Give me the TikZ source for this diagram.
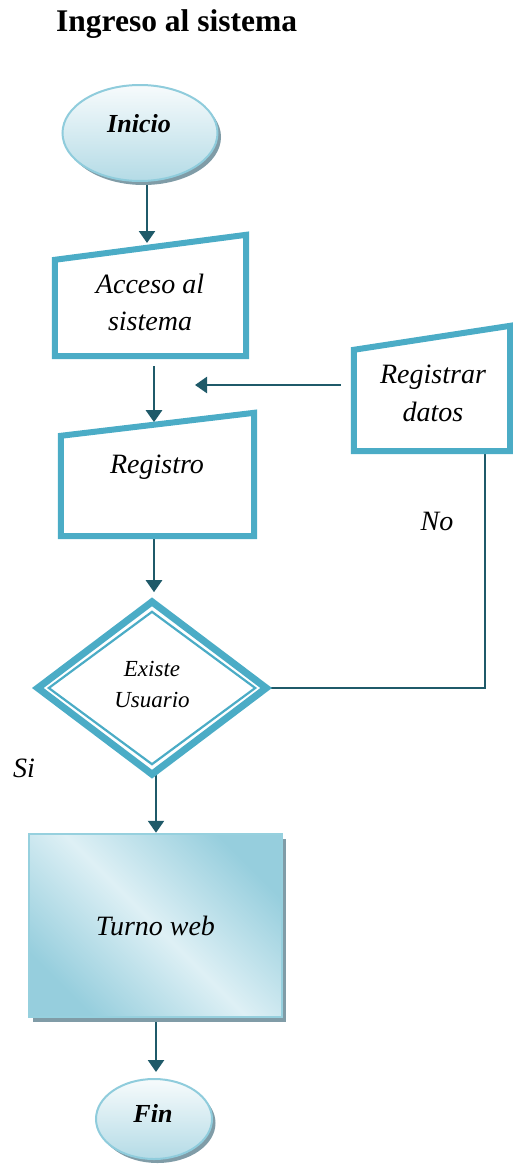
\documentclass[tikz,border=0pt]{standalone}
\usepackage{fontspec}
\setmainfont{Liberation Serif}
\usetikzlibrary{arrows.meta,shapes.geometric,shadows}
\pgfdeclarelayer{bg}
\pgfsetlayers{bg,main}
\definecolor{boxc}{RGB}{75,172,198}
\definecolor{arrowc}{RGB}{31,90,105}
\definecolor{termline}{RGB}{143,204,220}
\definecolor{termtop}{RGB}{247,251,252}
\definecolor{termbot}{RGB}{180,219,230}
\definecolor{shadowc}{RGB}{128,156,167}
\definecolor{twdark}{RGB}{150,206,221}
\definecolor{twlight}{RGB}{222,240,245}
\definecolor{twline}{RGB}{150,208,222}
\begin{document}
\begin{tikzpicture}[x=1pt,y=-1pt,
  frame/.style={rectangle, inner sep=0pt, draw=none},
  inbox/.style={draw=boxc, line width=6pt},
  dout/.style={draw=boxc, line width=7pt},
  din/.style={draw=boxc, line width=2.2pt},
  term/.style={ellipse, draw=termline, line width=2pt, top color=termtop, bottom color=termbot, inner sep=0pt,
    general shadow={fill=shadowc, shadow xshift=3.5pt, shadow yshift=-4pt}},
  proc/.style={rectangle, minimum width=253pt, minimum height=183pt, draw=twline, line width=2.5pt,
    top color=twdark, bottom color=twdark, middle color=twlight, shading angle=-45,
    general shadow={fill=shadowc, shadow xshift=3.5pt, shadow yshift=-4.5pt},
    font=\fontsize{28}{34}\selectfont\itshape},
  txt/.style={inner sep=0pt, font=\fontsize{28}{37}\selectfont\itshape, align=center},
  btxt/.style={inner sep=0pt, font=\fontsize{26}{30}\selectfont\bfseries\itshape},
  ttl/.style={inner sep=0pt, font=\fontsize{31.5}{36}\selectfont\bfseries},
  arr/.style={draw=arrowc, line width=2.5pt, -{Triangle[length=12pt,width=16pt]}},
  conn/.style={draw=arrowc, line width=2.2pt}]
\useasboundingbox (0,0) rectangle (513,1167);

% title
\node[ttl, anchor=base west] (title) at (56,31) {Ingreso al sistema};

% terminals
\node[term, minimum width=155pt, minimum height=96pt] (inicio) at (140,133) {};
\node[btxt, anchor=base] (iniciot) at (139,132) {Inicio};
\node[term, minimum width=116pt, minimum height=80pt] (fin) at (154,1119) {};
\node[btxt, anchor=base] (fint) at (153,1122) {Fin};

% manual input shapes
\node[frame, minimum width=191pt, minimum height=121pt] (acc) at (150.5,295.5) {};
\draw[inbox] (acc.south west) -- (acc.south east) -- (acc.north east) -- ([yshift=-25pt]acc.north west) -- cycle;
\node[txt] (acct) at (150,302) {Acceso al\\sistema};

\node[frame, minimum width=193pt, minimum height=123pt] (reg) at (157.5,474.5) {};
\draw[inbox] (reg.south west) -- (reg.south east) -- (reg.north east) -- ([yshift=-23pt]reg.north west) -- cycle;
\node[txt, anchor=base] (regt) at (157,473) {Registro};

\node[frame, minimum width=156pt, minimum height=125pt] (rd) at (432,388.5) {};
\draw[inbox] (rd.south west) -- (rd.south east) -- (rd.north east) -- ([yshift=-24pt]rd.north west) -- cycle;
\node[txt, font=\fontsize{28}{38}\selectfont\itshape] (rdt) at (433,393.5) {Registrar\\datos};

% decision
\node[frame, minimum width=228pt, minimum height=172pt] (dia) at (152,688) {};
\draw[dout] (dia.north) -- (dia.east) -- (dia.south) -- (dia.west) -- cycle;
\draw[din] ([yshift=-10pt]dia.north) -- ([xshift=-11pt]dia.east) -- ([yshift=10pt]dia.south) -- ([xshift=11pt]dia.west) -- cycle;
\node[txt, font=\fontsize{23}{31}\selectfont\itshape] (diat) at (152,685) {Existe\\Usuario};

% process
\node[proc] (tw) at (155.5,925.5) {Turno web};

% labels
\node[txt, anchor=base] (not) at (437,530) {No};
\node[txt, anchor=base west] (sit) at (13,777) {Si};

\coordinate (join) at (195,385);

\begin{pgfonlayer}{bg}
\draw[arr] ([xshift=7pt]inicio.south) -- ++(0,61);
\draw[arr] ([shift={(3.5,10)}]acc.south) -- ++(0,56);
\draw[arr] ([shift={(-13,-3.5)}]rd.west) -- (join);
\draw[arr] ([shift={(-3.5,3)}]reg.south) -- ++(0,53);
\draw[arr] ([xshift=4pt]dia.south) -- ([xshift=4pt]dia.south |- tw.north);
\draw[arr] ([xshift=0.5pt]tw.south) -- ([xshift=0.5pt,yshift=6pt]tw.south |- fin.north);
\draw[conn] ([xshift=53pt]rd.south) |- (dia.east);
\end{pgfonlayer}
\end{tikzpicture}
\end{document}
